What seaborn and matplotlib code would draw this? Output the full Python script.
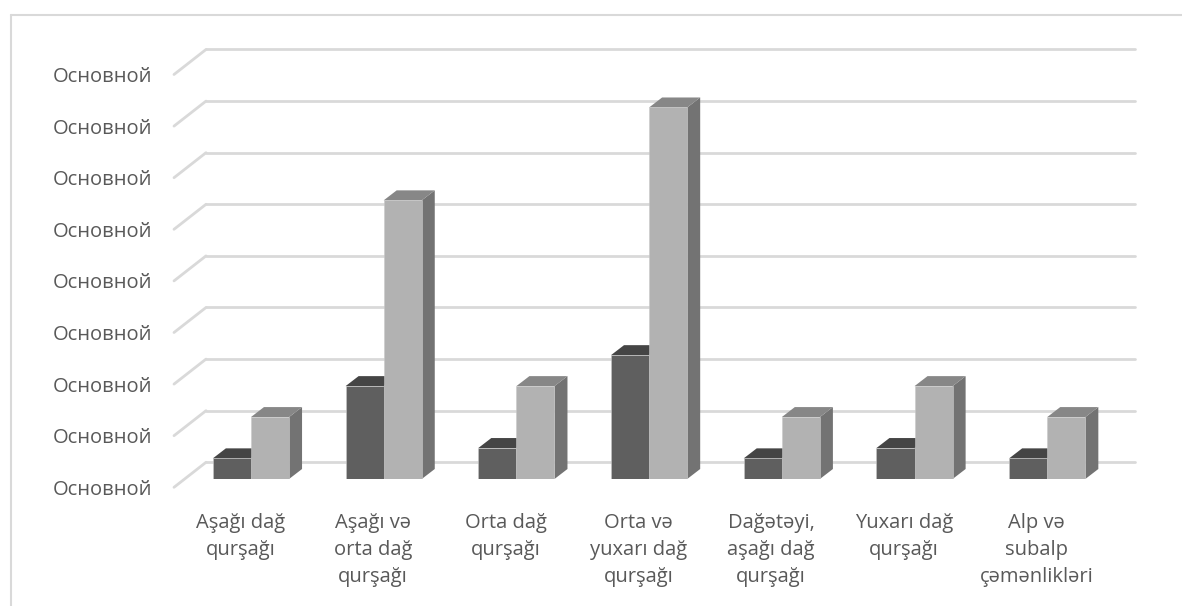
import matplotlib
matplotlib.use("Agg")
import matplotlib.pyplot as plt
import matplotlib.transforms as mtransforms
from matplotlib.patches import Polygon
from matplotlib.lines import Line2D
import numpy as np
import pandas as pd
import seaborn as sns

# ---- data -------------------------------------------------------------
zones = [
    "Aşağı dağ\nqurşağı",
    "Aşağı və\norta dağ\nqurşağı",
    "Orta dağ\nqurşağı",
    "Orta və\nyuxarı dağ\nqurşağı",
    "Dağətəyi,\naşağı dağ\nqurşağı",
    "Yuxarı dağ\nqurşağı",
    "Alp və\nsubalp\nçəmənlikləri",
]
series_names = ["Ряд 1", "Ряд 2"]
series_1 = [2, 9, 3, 12, 2, 3, 2]
series_2 = [6, 27, 9, 36, 6, 9, 6]
y_ticks = [0, 5, 10, 15, 20, 25, 30, 35, 40]
y_tick_labels = ["Основной"] * len(y_ticks)

df = pd.DataFrame({
    "zone": zones * 2,
    "value": series_1 + series_2,
    "series": [series_names[0]] * len(zones) + [series_names[1]] * len(zones),
})

# ---- style ------------------------------------------------------------
sns.set_style("white")
plt.rcParams["font.family"] = ["Open Sans", "Noto Sans", "DejaVu Sans"]
TEXT = "#595959"
GRID = "#d9d9d9"
FRONT = ["#5f5f5f", "#b2b2b2"]
TOP = ["#454545", "#878787"]
SIDE = ["#3c3c3c", "#737373"]
FS = 14.5

W, H = 1182, 606
fig = plt.figure(figsize=(W / 100, H / 100), dpi=100)
fig.patch.set_facecolor("white")

# axes = front plane of the columns
left_px, right_px = 184.6, 1113.6
base_px, top_px = 479.0, 66.2
ax = fig.add_axes([left_px / W, (H - base_px) / H,
                   (right_px - left_px) / W, (base_px - top_px) / H])
ax.set_facecolor("none")

sns.barplot(data=df, x="zone", y="value", hue="series", palette=FRONT,
            width=0.574, saturation=1, legend=False, ax=ax, zorder=3,
            edgecolor="#c8c8c8", linewidth=0.4)
ax.set_xlim(-0.5, 6.5)
ax.set_ylim(0, 40)
ax.set_xlabel("")
ax.set_ylabel("")
for s in ax.spines.values():
    s.set_visible(False)

# pixel -> data unit conversion
p0 = ax.transData.transform((0, 0))
px_x = ax.transData.transform((1, 0))[0] - p0[0]
px_y = ax.transData.transform((0, 1))[1] - p0[1]

def d(dx_px, dy_px):
    return dx_px / px_x, dy_px / px_y

front_off = d(-10.6, -8.3)   # floor front edge
back_off = d(21.4, 16.7)     # back wall
depth = d(13.0, 10.0)        # column depth

# ---- perspective grid -------------------------------------------------
x0, x1 = ax.get_xlim()
for v in y_ticks:
    ax.add_line(Line2D([x0 + back_off[0], x1 + back_off[0]],
                       [v + back_off[1], v + back_off[1]],
                       color=GRID, lw=2.0, zorder=0, clip_on=False))
    ax.add_line(Line2D([x0 + front_off[0], x0 + back_off[0]],
                       [v + front_off[1], v + back_off[1]],
                       color=GRID, lw=2.0, zorder=0, clip_on=False))

# ---- 3D column faces ---------------------------------------------------
n = len(zones)
for i, bar in enumerate(ax.patches):
    k = i // n
    bx, bw, bh = bar.get_x(), bar.get_width(), bar.get_height()
    by = bar.get_y()
    ddx, ddy = depth
    top = [(bx, by + bh), (bx + bw, by + bh),
           (bx + bw + ddx, by + bh + ddy), (bx + ddx, by + bh + ddy)]
    side = [(bx + bw, by), (bx + bw, by + bh),
            (bx + bw + ddx, by + bh + ddy), (bx + bw + ddx, by + ddy)]
    ax.add_patch(Polygon(side, closed=True, facecolor=SIDE[k],
                         edgecolor="none", zorder=1, clip_on=False))
    ax.add_patch(Polygon(top, closed=True, facecolor=TOP[k],
                         edgecolor="none", zorder=2, clip_on=False))

# ---- tick labels --------------------------------------------------------
ax.set_yticks(y_ticks)
ax.set_yticklabels(y_tick_labels)
ax.tick_params(axis="y", length=0, pad=23.5, labelsize=FS, labelcolor=TEXT)
ax.tick_params(axis="x", length=0, pad=24.5, labelsize=FS, labelcolor=TEXT)

shift_y = mtransforms.ScaledTranslation(0, -8.3 / 100, fig.dpi_scale_trans)
shift_x = mtransforms.ScaledTranslation(-10.6 / 100, 0, fig.dpi_scale_trans)
for t in ax.yaxis.get_major_ticks():
    t.label1.set_transform(t.label1.get_transform() + shift_y)
for t in ax.xaxis.get_major_ticks():
    t.label1.set_transform(t.label1.get_transform() + shift_x)
    t.label1.set_linespacing(1.45)

# ---- chart frame ----------------------------------------------------------
fig.add_artist(Line2D([10.5 / W, 1.0], [1 - 14.5 / H, 1 - 14.5 / H],
                      transform=fig.transFigure, color=GRID, lw=1.5))
fig.add_artist(Line2D([10.5 / W, 10.5 / W], [0, 1 - 14.5 / H],
                      transform=fig.transFigure, color=GRID, lw=1.5))

fig.savefig("out.png", dpi=100, facecolor="white")
